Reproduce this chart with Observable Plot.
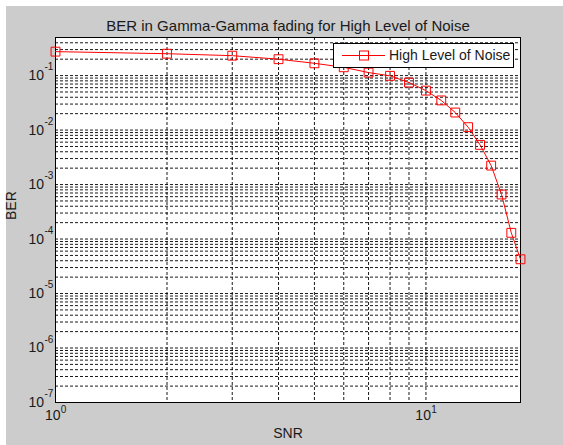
<!DOCTYPE html>
<html><head><meta charset="utf-8">
<script src="https://cdn.jsdelivr.net/npm/d3@7"></script>
<script src="https://cdn.jsdelivr.net/npm/@observablehq/plot@0.6"></script>
<style>
html,body{margin:0;padding:0;background:#fff;overflow:hidden;}
#bg{position:absolute;left:6px;top:6px;width:557px;height:439px;background:#cccccc;}
#chart{position:absolute;left:0;top:0;}
</style></head><body><div id="bg"></div><div id="chart"></div>
<script>
const snr = [1,2,3,4,5,6,7,8,9,10,11,12,13,14,15,16,17,18];
const ber = [0.275,0.252,0.232,0.200,0.168,0.142,0.1135,0.099,0.0745,0.053,0.035,0.021,0.0113,0.00535,0.00223,0.000657,0.000130,0.0000425];
const seriesName = "High Level of Noise";
const titleText = "BER in Gamma-Gamma fading for High Level of Noise";
const xLabel = "SNR";
const yLabel = "BER";
const xTicks = [1, 10];
const xTickExp = ["0", "1"];
const yTicks = [1e-7,1e-6,1e-5,1e-4,1e-3,1e-2,1e-1];
const yTickExp = ["-7","-6","-5","-4","-3","-2","-1"];
const xGrid = [2,3,4,5,6,7,8,9,10];
const yMinorMult = [1,2,3,4,5,6,7,8,9];

const yGrid = [];
for (const d of yTicks) for (const m of yMinorMult) { const v = d*m; if (v > 1e-7 && v < 0.5) yGrid.push(v); }
const data = snr.map((s,i)=>({snr:s, ber:ber[i]}));

const font = "'Liberation Sans', Arial, sans-serif";
const txt = "#1a1a1a";
const chart = Plot.plot({
  width:563, height:445,
  marginLeft:55, marginTop:37, marginRight:43, marginBottom:43,
  x:{type:"log", domain:[1,18], axis:null},
  y:{type:"log", domain:[1e-7,0.5], axis:null},
  style:{background:"transparent", fontFamily:font, overflow:"visible"},
  marks:[
    Plot.frame({fill:"white"}),
    Plot.ruleX(xGrid,{x:d=>d, stroke:"#000", strokeWidth:1, strokeDasharray:"3,2", strokeOpacity:0.9}),
    Plot.ruleY(yGrid,{y:d=>d, stroke:"#000", strokeWidth:1, strokeDasharray:"3,2", strokeOpacity:0.9}),
    Plot.frame({stroke:"#000", strokeWidth:1}),
    Plot.line(data,{x:"snr", y:"ber", stroke:"#ff0000", strokeWidth:1}),
    Plot.dot(data,{x:"snr", y:"ber", symbol:"square", r:5, stroke:"#ff0000", fill:"none", strokeWidth:1}),
    Plot.text(xTicks,{x:d=>d, frameAnchor:"bottom", dy:17, dx:-2.8, text:()=>"10", fontSize:14, fill:txt}),
    Plot.text(xTicks,{x:d=>d, frameAnchor:"bottom", dy:10, dx:5.2, text:(d,i)=>xTickExp[i], textAnchor:"start", fontSize:10, fill:txt}),
    Plot.text(yTicks,{y:d=>d, frameAnchor:"left", dx:-11.5, text:()=>"10", textAnchor:"end", fontSize:14, fill:txt}),
    Plot.text(yTicks,{y:d=>d, frameAnchor:"left", dx:-11, dy:-8.5, text:(d,i)=>yTickExp[i], textAnchor:"start", fontSize:10, fill:txt}),
    Plot.text([titleText],{frameAnchor:"top", dy:-17, text:d=>d, fontSize:15, fill:txt}),
    Plot.text([xLabel],{frameAnchor:"bottom", dy:35, text:d=>d, fontSize:14, fill:txt}),
    Plot.text([yLabel],{frameAnchor:"left", dx:-44, rotate:-90, text:d=>d, fontSize:14, fill:txt})
  ]
});
document.getElementById("chart").appendChild(chart);

// legend
const svg = d3.select(chart);
const lg = svg.append("g").attr("font-family", font).attr("text-anchor","start");
lg.append("rect").attr("x",333.5).attr("y",43.5).attr("width",180).attr("height",24).attr("fill","white").attr("stroke","#000");
lg.append("line").attr("x1",342).attr("x2",385).attr("y1",55.5).attr("y2",55.5).attr("stroke","#ff0000");
lg.append("rect").attr("x",359.5).attr("y",51).attr("width",9).attr("height",9).attr("fill","none").attr("stroke","#ff0000");
lg.append("text").attr("x",389).attr("y",55.5).attr("dy","0.35em").attr("text-anchor","start").attr("font-size",14).attr("fill",txt).text(seriesName);
</script></body></html>
